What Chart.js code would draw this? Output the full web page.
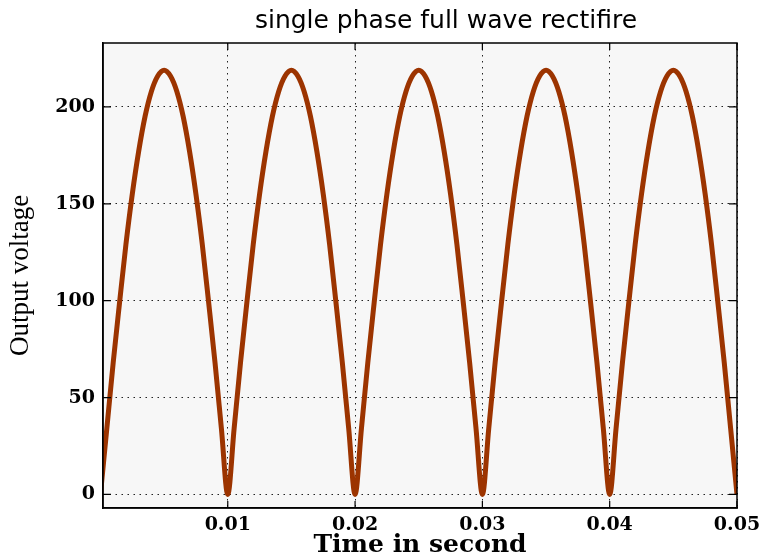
<!DOCTYPE html>
<html>
<head>
<meta charset="utf-8">
<script src="https://cdn.jsdelivr.net/npm/chart.js@4"></script>
<style>
  html, body { margin: 0; padding: 0; background: #fff; }
  #wrap { width: 762px; height: 559px; }
</style>
</head>
<body>
<div id="wrap"><canvas id="rectChart"></canvas></div>
<script>
// values, one sample every 0.5 ms
const timeS = [
  0, 0.0005, 0.001, 0.0015, 0.002, 0.0025, 0.003, 0.0035, 0.004, 0.0045,
  0.005, 0.0055, 0.006, 0.0065, 0.007, 0.0075, 0.008, 0.0085, 0.009, 0.0095,
  0.01, 0.0105, 0.011, 0.0115, 0.012, 0.0125, 0.013, 0.0135, 0.014, 0.0145,
  0.015, 0.0155, 0.016, 0.0165, 0.017, 0.0175, 0.018, 0.0185, 0.019, 0.0195,
  0.02, 0.0205, 0.021, 0.0215, 0.022, 0.0225, 0.023, 0.0235, 0.024, 0.0245,
  0.025, 0.0255, 0.026, 0.0265, 0.027, 0.0275, 0.028, 0.0285, 0.029, 0.0295,
  0.03, 0.0305, 0.031, 0.0315, 0.032, 0.0325, 0.033, 0.0335, 0.034, 0.0345,
  0.035, 0.0355, 0.036, 0.0365, 0.037, 0.0375, 0.038, 0.0385, 0.039, 0.0395,
  0.04, 0.0405, 0.041, 0.0415, 0.042, 0.0425, 0.043, 0.0435, 0.044, 0.0445,
  0.045, 0.0455, 0.046, 0.0465, 0.047, 0.0475, 0.048, 0.0485, 0.049, 0.0495,
  0.05
];
const outputV = [
  0, 34, 68, 99, 129, 155, 177, 195, 208, 216,
  219, 216, 208, 195, 177, 155, 129, 99, 68, 34,
  0, 34, 68, 99, 129, 155, 177, 195, 208, 216,
  219, 216, 208, 195, 177, 155, 129, 99, 68, 34,
  0, 34, 68, 99, 129, 155, 177, 195, 208, 216,
  219, 216, 208, 195, 177, 155, 129, 99, 68, 34,
  0, 34, 68, 99, 129, 155, 177, 195, 208, 216,
  219, 216, 208, 195, 177, 155, 129, 99, 68, 34,
  0, 34, 68, 99, 129, 155, 177, 195, 208, 216,
  219, 216, 208, 195, 177, 155, 129, 99, 68, 34,
  0
];
const xTicks = [0.01, 0.02, 0.03, 0.04, 0.05];
const yTicks = [0, 50, 100, 150, 200];

const tickFont = { family: 'DejaVu Serif', weight: 'bold', size: 19 };

// plot background, top/right frame, inner tick marks, title offset
const framePlugin = {
  id: 'frame',
  afterLayout(chart) {
    const tb = chart.titleBlock;
    if (tb) {
      const shift = 446 - (tb.left + tb.right) / 2;
      tb.left += shift;
      tb.right += shift;
    }
  },
  beforeDraw(chart) {
    const { ctx, chartArea: a } = chart;
    ctx.save();
    ctx.fillStyle = '#f7f7f7';
    ctx.fillRect(a.left, a.top, a.right - a.left, a.bottom - a.top);
    ctx.restore();
  },
  afterDatasetsDraw(chart) {
    const { ctx, chartArea: a, scales } = chart;
    ctx.save();
    ctx.strokeStyle = '#000';
    ctx.lineWidth = 1.5;
    ctx.strokeRect(a.left, a.top, a.right - a.left, a.bottom - a.top);
    ctx.lineWidth = 1.2;
    ctx.beginPath();
    yTicks.forEach(v => {
      const y = scales.y.getPixelForValue(v);
      ctx.moveTo(a.left, y); ctx.lineTo(a.left + 8, y);
      ctx.moveTo(a.right, y); ctx.lineTo(a.right - 8, y);
    });
    xTicks.forEach(v => {
      const x = scales.x.getPixelForValue(v);
      ctx.moveTo(x, a.bottom); ctx.lineTo(x, a.bottom - 7);
      ctx.moveTo(x, a.top); ctx.lineTo(x, a.top + 7);
    });
    ctx.stroke();
    ctx.restore();
  }
};

const ctx = document.getElementById('rectChart').getContext('2d');
new Chart(ctx, {
  type: 'line',
  data: {
    datasets: [{
      label: 'Output voltage',
      data: timeS.map((t, i) => ({ x: t, y: outputV[i] })),
      borderColor: '#9c3400',
      borderWidth: 5,
      pointRadius: 0,
      cubicInterpolationMode: 'monotone',
      fill: false
    }]
  },
  options: {
    responsive: true,
    maintainAspectRatio: false,
    animation: false,
    layout: { padding: { top: 0, right: 25, bottom: 0, left: 0 } },
    plugins: {
      legend: { display: false },
      tooltip: { enabled: false },
      title: {
        display: true,
        text: 'single phase full wave rectifire',
        color: '#000',
        font: { family: 'DejaVu Sans', size: 25, weight: 'normal', lineHeight: 1.2 },
        padding: { top: 6, bottom: 7 }
      }
    },
    scales: {
      x: {
        type: 'linear',
        min: 0.0002,
        max: 0.05,
        afterBuildTicks: s => { s.ticks = xTicks.map(v => ({ value: v })); },
        afterFit: s => { s.height = 51; s.paddingLeft = 0; s.paddingRight = 0; },
        grid: { color: '#222', lineWidth: 1, drawTicks: false },
        border: { display: true, color: '#000', width: 1.5, dash: [1.5, 4.5] },
        ticks: {
          color: '#000',
          font: tickFont,
          padding: 6,
          maxRotation: 0,
          callback: v => v.toFixed(2)
        },
        title: {
          display: true,
          text: 'Time in second',
          color: '#000',
          font: { family: 'DejaVu Serif', weight: 'bold', size: 25, lineHeight: 1 },
          padding: { top: 0, bottom: 1 }
        }
      },
      y: {
        min: -7,
        max: 233,
        afterBuildTicks: s => { s.ticks = yTicks.map(v => ({ value: v })); },
        afterFit: s => { s.width = 103; s.paddingTop = 0; s.paddingBottom = 0; },
        grid: { color: '#222', lineWidth: 1, drawTicks: false },
        border: { display: true, color: '#000', width: 1.5, dash: [1.5, 4.5] },
        ticks: {
          color: '#000',
          font: tickFont,
          padding: 8
        },
        title: {
          display: true,
          text: 'Output voltage',
          color: '#000',
          font: { family: 'Liberation Serif', weight: 'normal', size: 27, lineHeight: 1 },
          padding: { top: 7, bottom: 0 }
        }
      }
    }
  },
  plugins: [framePlugin]
});
</script>
</body>
</html>
